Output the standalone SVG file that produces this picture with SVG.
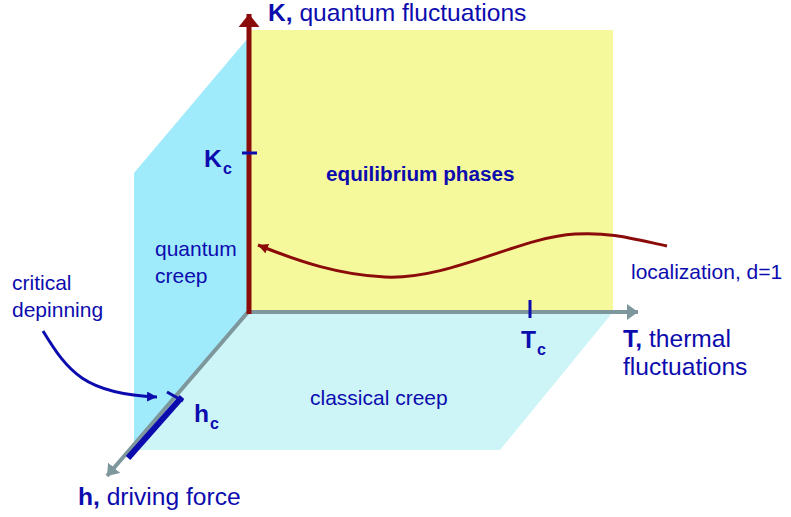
<svg xmlns="http://www.w3.org/2000/svg" width="791" height="517" viewBox="0 0 791 517">
<defs>
<style>
text{font-family:"Liberation Sans",Arial,sans-serif;fill:#0c0cae}
.n{font-size:21px}
.b{font-weight:bold}
.eq{font-size:20.7px;font-weight:bold}
.big{font-size:24.6px}
.sub{font-size:16px;font-weight:bold}
.gray{stroke:#7d979c;stroke-width:4;fill:none}
</style>
<marker id="ag" markerUnits="userSpaceOnUse" markerWidth="14" markerHeight="18" refX="11" refY="8" orient="auto" viewBox="0 0 14 18"><path d="M0,0 L11,8 L0,16 Z" fill="#7d979c"/></marker>
<marker id="ar" markerUnits="userSpaceOnUse" markerWidth="16" markerHeight="24" refX="13" refY="10.5" orient="auto" viewBox="0 0 16 24"><path d="M0,0 L13,10.5 L0,21 Z" fill="#8b0a0a"/></marker>
<marker id="ac" markerUnits="userSpaceOnUse" markerWidth="12" markerHeight="12" refX="10" refY="5" orient="auto" viewBox="0 0 12 12"><path d="M0,0 L10,5 L0,10 Z" fill="#8b0a0a"/></marker>
<marker id="ab" markerUnits="userSpaceOnUse" markerWidth="12" markerHeight="12" refX="10" refY="5" orient="auto" viewBox="0 0 12 12"><path d="M0,0 L10,5 L0,10 Z" fill="#0c0cae"/></marker>
</defs>
<g id="planes">
<polygon id="quantum-plane" points="248,38 134,173 134,450 248,312" fill="#9feafb"/>
<polygon id="classical-plane" points="248,312 613,312 500,450 131,450" fill="#cdf5f8"/>
<rect id="equilibrium-plane" x="250" y="30" width="363" height="282" fill="#f5f99b"/>
</g>
<g id="connectors">
<line class="gray" x1="248" y1="312" x2="638" y2="312" marker-end="url(#ag)"/>
<line class="gray" x1="248" y1="312" x2="107" y2="476" marker-end="url(#ag)"/>
<line x1="249" y1="314" x2="249" y2="14" stroke="#8b0a0a" stroke-width="5" marker-end="url(#ar)"/>
<line x1="182" y1="397" x2="128" y2="458" stroke="#0c0cae" stroke-width="6"/>
<line x1="167" y1="392" x2="183" y2="401" stroke="#0c0cae" stroke-width="3"/>
<line x1="242" y1="153" x2="257" y2="153" stroke="#0c0cae" stroke-width="3"/>
<line x1="530" y1="300" x2="530" y2="318" stroke="#0c0cae" stroke-width="3"/>
<path d="M667,246 C630,238 610,232 575,234 C520,237 450,280 385,277 C340,275 300,262 258,245" fill="none" stroke="#8b0a0a" stroke-width="3" marker-end="url(#ac)"/>
<path d="M43,331 C68,372 85,394 157,397" fill="none" stroke="#0c0cae" stroke-width="3" marker-end="url(#ab)"/>
</g>
<g id="label-K"><text class="big" x="268" y="21"><tspan class="b">K,</tspan> quantum fluctuations</text></g>
<g id="label-Kc"><text class="big b" x="204" y="167">K</text><text class="sub" x="223" y="174">c</text></g>
<g id="label-equilibrium"><text class="eq" x="326" y="181">equilibrium phases</text></g>
<g id="label-quantum-creep"><text class="n" x="155" y="256">quantum</text><text class="n" x="155" y="283">creep</text></g>
<g id="label-localization"><text class="n" x="631" y="279">localization, d=1</text></g>
<g id="label-Tc"><text class="big b" x="521" y="348">T</text><text class="sub" x="537" y="355">c</text></g>
<g id="label-T"><text class="big" x="623" y="347"><tspan class="b">T,</tspan> thermal</text><text class="big" x="623" y="375">fluctuations</text></g>
<g id="label-critical"><text class="n" x="12" y="290">critical</text><text class="n" x="12" y="317">depinning</text></g>
<g id="label-hc"><text class="big b" x="194" y="422">h</text><text class="sub" x="210" y="429">c</text></g>
<g id="label-classical"><text class="n" x="310" y="405">classical creep</text></g>
<g id="label-h"><text class="big" x="78" y="505"><tspan class="b">h,</tspan> driving force</text></g>
</svg>
